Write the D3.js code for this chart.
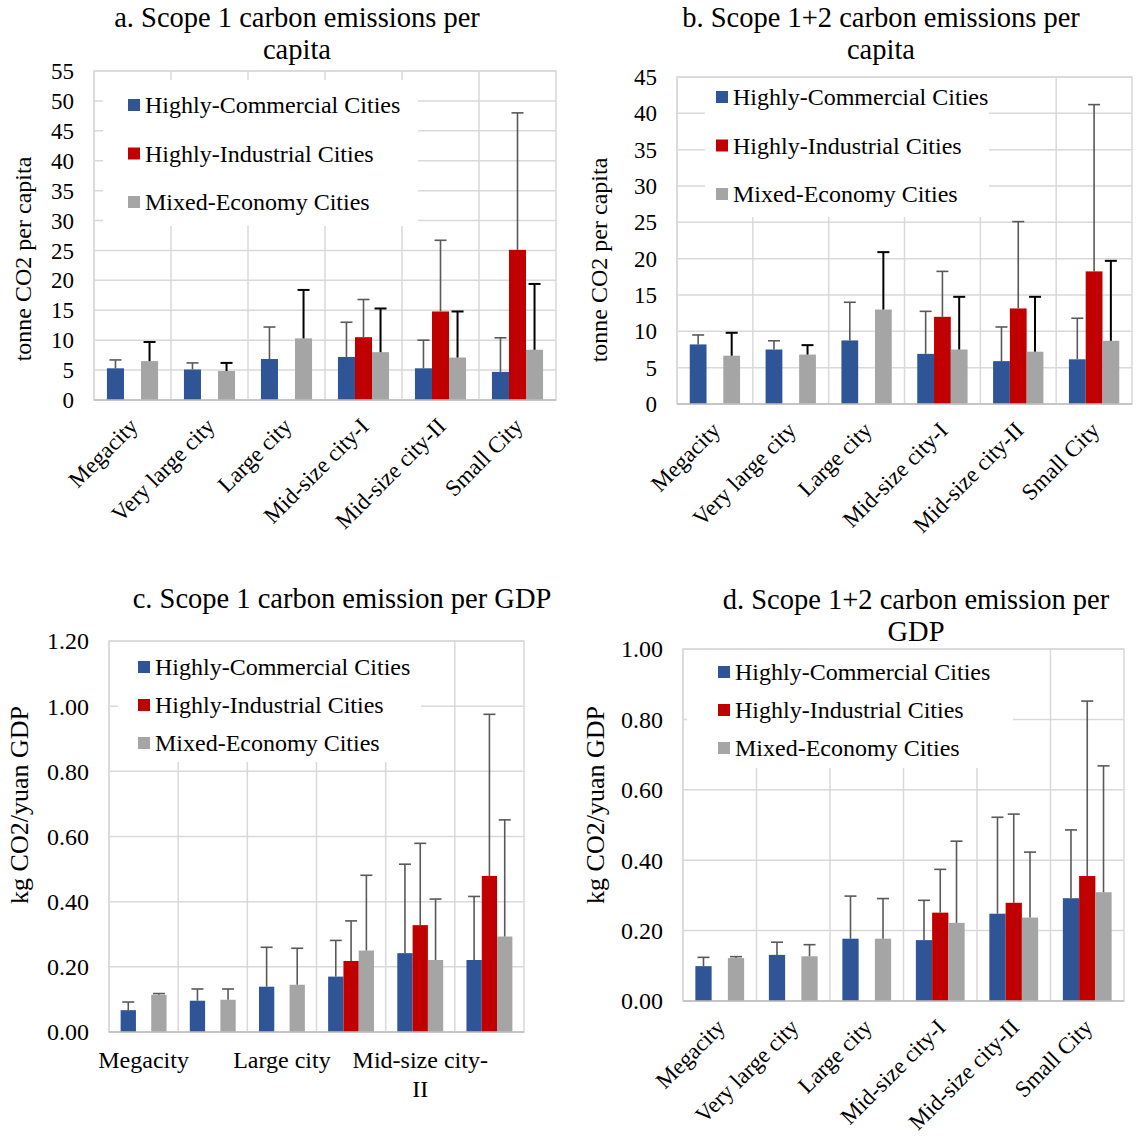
<!DOCTYPE html>
<html lang="en">
<head>
  <meta charset="UTF-8">
  <title>Carbon emissions by city size</title>
<script src="https://d3js.org/d3.v7.min.js"></script>
<style>
  body { margin: 0; background: #fff; }
  svg text { font-family: "Liberation Serif", "Times New Roman", serif; fill: #000; }
</style>
</head>
<body>
<div id="chart"></div>

  <script>

const categories = ['Megacity', 'Very large city', 'Large city', 'Mid-size city-I', 'Mid-size city-II', 'Small City'];
const seriesNames = ['Highly-Commercial Cities', 'Highly-Industrial Cities', 'Mixed-Economy Cities'];
const seriesColors = ['#2F5597', '#C00000', '#A5A5A5'];

// a. scope 1 per capita (tonne)
const aCommercial = [5.3, 5.1, 6.85, 7.2, 5.3, 4.7];
const aCommercialErr = [1.4, 1.1, 5.35, 5.8, 4.7, 5.7];
const aIndustrial = [0, 0, 0, 10.5, 14.8, 25.1];
const aIndustrialErr = [0, 0, 0, 6.3, 11.9, 22.9];
const aMixed = [6.5, 4.85, 10.3, 8.0, 7.1, 8.4];
const aMixedErr = [3.2, 1.35, 8.1, 7.3, 7.7, 11.0];
const aTicks = [0, 5, 10, 15, 20, 25, 30, 35, 40, 45, 50, 55];

// b. scope 1+2 per capita (tonne)
const bCommercial = [8.2, 7.5, 8.75, 6.9, 5.9, 6.15];
const bCommercialErr = [1.3, 1.2, 5.25, 5.85, 4.7, 5.65];
const bIndustrial = [0, 0, 0, 12.0, 13.15, 18.25];
const bIndustrialErr = [0, 0, 0, 6.25, 11.95, 22.95];
const bMixed = [6.65, 6.8, 13.0, 7.5, 7.2, 8.7];
const bMixedErr = [3.15, 1.3, 7.9, 7.25, 7.55, 11.0];
const bTicks = [0, 5, 10, 15, 20, 25, 30, 35, 40, 45];

// c. scope 1 per GDP (kg/yuan)
const cCommercial = [0.067, 0.096, 0.139, 0.170, 0.242, 0.221];
const cCommercialErr = [0.025, 0.036, 0.121, 0.111, 0.273, 0.195];
const cIndustrial = [0, 0, 0, 0.218, 0.328, 0.479];
const cIndustrialErr = [0, 0, 0, 0.123, 0.251, 0.496];
const cMixed = [0.114, 0.099, 0.145, 0.25, 0.221, 0.293];
const cMixedErr = [0.004, 0.033, 0.112, 0.231, 0.187, 0.358];
const cTicks = [0, 0.2, 0.4, 0.6, 0.8, 1.0, 1.2];

// d. scope 1+2 per GDP (kg/yuan)
const dCommercial = [0.099, 0.131, 0.177, 0.173, 0.248, 0.292];
const dCommercialErr = [0.025, 0.036, 0.121, 0.113, 0.274, 0.194];
const dIndustrial = [0, 0, 0, 0.251, 0.279, 0.355];
const dIndustrialErr = [0, 0, 0, 0.123, 0.252, 0.497];
const dMixed = [0.122, 0.127, 0.177, 0.222, 0.237, 0.309];
const dMixedErr = [0.004, 0.033, 0.114, 0.232, 0.186, 0.359];
const dTicks = [0, 0.2, 0.4, 0.6, 0.8, 1.0];

const svg = d3.select('#chart')
  .append('svg')
  .attr('width', 1138)
  .attr('height', 1141);

function drawPanel(p) {
  const g = svg.append('g');
  const series = [
    { name: seriesNames[0], color: seriesColors[0], values: p.values[0], errs: p.errs[0], errColor: '#595959' },
    { name: seriesNames[1], color: seriesColors[1], values: p.values[1], errs: p.errs[1], errColor: '#595959' },
    { name: seriesNames[2], color: seriesColors[2], values: p.values[2], errs: p.errs[2], errColor: p.blackMixed ? '#000' : '#595959' }
  ];

  const x = d3.scaleBand().domain(categories).range([p.left, p.right]);
  const xs = d3.scaleBand().domain(seriesNames).range([0, x.bandwidth()]).paddingOuter(0.76);
  const y = d3.scaleLinear().domain([0, d3.max(p.ticks)]).range([p.bottom, p.top]);

  // gridlines
  g.selectAll('.hgrid').data(p.ticks).enter().append('line')
    .attr('x1', p.left).attr('x2', p.right)
    .attr('y1', d => y(d)).attr('y2', d => y(d))
    .attr('stroke', '#d9d9d9').attr('stroke-width', 1.5);
  g.selectAll('.vgrid').data(categories).enter().append('line')
    .attr('x1', d => x(d)).attr('x2', d => x(d))
    .attr('y1', p.top).attr('y2', p.bottom)
    .attr('stroke', '#d9d9d9').attr('stroke-width', 1.5);
  g.append('rect')
    .attr('x', p.left).attr('y', p.top)
    .attr('width', p.right - p.left).attr('height', p.bottom - p.top)
    .attr('fill', 'none').attr('stroke', '#d9d9d9').attr('stroke-width', 1.5);

  // y tick labels
  g.selectAll('.ytick').data(p.ticks).enter().append('text')
    .attr('x', p.left - p.tickGap)
    .attr('y', d => y(d))
    .attr('dy', '0.35em')
    .attr('text-anchor', 'end')
    .attr('font-size', p.tickSize)
    .text(d => p.fmt(d));

  // bars
  series.forEach(s => {
    g.selectAll(null).data(categories).enter().append('rect')
      .attr('x', (c, i) => x(c) + xs(s.name))
      .attr('y', (c, i) => y(s.values[i]))
      .attr('width', xs.bandwidth())
      .attr('height', (c, i) => y(0) - y(s.values[i]))
      .attr('fill', s.color);
  });

  // error bars (upper only)
  series.forEach(s => {
    const pts = categories.map((c, i) => ({ c, v: s.values[i], e: s.errs[i] })).filter(d => d.v > 0);
    const cx = d => x(d.c) + xs(s.name) + xs.bandwidth() / 2;
    const w = s.errColor === '#000' ? 2 : 1.6;
    g.selectAll(null).data(pts).enter().append('line')
      .attr('x1', cx).attr('x2', cx)
      .attr('y1', d => y(d.v)).attr('y2', d => y(d.v + d.e))
      .attr('stroke', s.errColor).attr('stroke-width', w);
    g.selectAll(null).data(pts).enter().append('line')
      .attr('x1', d => cx(d) - 6).attr('x2', d => cx(d) + 6)
      .attr('y1', d => y(d.v + d.e)).attr('y2', d => y(d.v + d.e))
      .attr('stroke', s.errColor).attr('stroke-width', w);
  });

  // category axis line
  g.append('line')
    .attr('x1', p.left).attr('x2', p.right)
    .attr('y1', p.bottom).attr('y2', p.bottom)
    .attr('stroke', '#bfbfbf').attr('stroke-width', 1.5);

  // x labels
  if (p.flatLabels) {
    p.flatLabels.forEach(l => {
      const cx = x(categories[l.i]) + x.bandwidth() / 2;
      const t = g.append('text')
        .attr('x', cx)
        .attr('y', p.bottom + 36)
        .attr('text-anchor', 'middle')
        .attr('font-size', p.catSize);
      l.lines.forEach((ln, k) => {
        t.append('tspan')
          .attr('x', cx)
          .attr('dy', k === 0 ? 0 : '1.2em')
          .text(ln);
      });
    });
  } else {
    g.selectAll('.xlab').data(categories).enter().append('text')
      .attr('transform', d => `translate(${x(d) + x.bandwidth() / 2 + 1},${p.bottom + 22}) rotate(-45)`)
      .attr('text-anchor', 'end')
      .attr('dy', '0.35em')
      .attr('font-size', p.catSize)
      .text(d => d);
  }

  // y axis title
  g.append('text')
    .attr('transform', `translate(${p.yTitleX},${p.yTitleY}) rotate(-90)`)
    .attr('text-anchor', 'middle')
    .attr('font-size', p.yTitleSize)
    .text(p.yTitle);

  // chart title
  p.title.forEach((t, k) => {
    g.append('text')
      .attr('x', p.titleX)
      .attr('y', p.titleY + k * 32)
      .attr('text-anchor', 'middle')
      .attr('font-size', 28.5)
      .text(t);
  });

  // legend
  const lg = g.append('g');
  lg.append('rect')
    .attr('x', p.legend.x).attr('y', p.legend.y)
    .attr('width', p.legend.w).attr('height', p.legend.h)
    .attr('fill', '#fff');
  series.forEach((s, k) => {
    const ry = p.legend.row0 + k * p.legend.rowStep;
    lg.append('rect')
      .attr('x', p.legend.mx).attr('y', ry - 6)
      .attr('width', 12).attr('height', 12)
      .attr('fill', s.color);
    lg.append('text')
      .attr('x', p.legend.mx + 17).attr('y', ry)
      .attr('dy', '0.35em')
      .attr('font-size', p.legendSize)
      .text(s.name);
  });
}

drawPanel({
  title: ['a. Scope 1 carbon emissions per', 'capita'], titleX: 297, titleY: 27,
  left: 94, right: 556, top: 71, bottom: 400,
  ticks: aTicks, fmt: d3.format('d'), tickSize: 23, tickGap: 20,
  values: [aCommercial, aIndustrial, aMixed], errs: [aCommercialErr, aIndustrialErr, aMixedErr],
  blackMixed: true, catSize: 23,
  yTitle: 'tonne CO2 per capita', yTitleX: 31, yTitleY: 259, yTitleSize: 24,
  legend: { x: 103, y: 80, w: 315, h: 146, mx: 128, row0: 105, rowStep: 48.5 }, legendSize: 24
});

drawPanel({
  title: ['b. Scope 1+2 carbon emissions per', 'capita'], titleX: 881, titleY: 27,
  left: 677, right: 1132, top: 77, bottom: 404,
  ticks: bTicks, fmt: d3.format('d'), tickSize: 23, tickGap: 20,
  values: [bCommercial, bIndustrial, bMixed], errs: [bCommercialErr, bIndustrialErr, bMixedErr],
  blackMixed: true, catSize: 23,
  yTitle: 'tonne CO2 per capita', yTitleX: 607, yTitleY: 260, yTitleSize: 24,
  legend: { x: 705, y: 78, w: 284, h: 139, mx: 716, row0: 97, rowStep: 48.5 }, legendSize: 24
});

drawPanel({
  title: ['c. Scope 1 carbon emission per GDP'], titleX: 342, titleY: 608,
  left: 109, right: 524, top: 641, bottom: 1032,
  ticks: cTicks, fmt: d3.format('.2f'), tickSize: 24, tickGap: 20,
  values: [cCommercial, cIndustrial, cMixed], errs: [cCommercialErr, cIndustrialErr, cMixedErr],
  blackMixed: false, catSize: 24,
  flatLabels: [{ i: 0, lines: ['Megacity'] }, { i: 2, lines: ['Large city'] }, { i: 4, lines: ['Mid-size city-', 'II'] }],
  yTitle: 'kg CO2/yuan GDP', yTitleX: 28, yTitleY: 805, yTitleSize: 26,
  legend: { x: 118, y: 642, w: 303, h: 120, mx: 138, row0: 667, rowStep: 38 }, legendSize: 24
});

drawPanel({
  title: ['d. Scope 1+2 carbon emission per', 'GDP'], titleX: 916, titleY: 609,
  left: 683, right: 1124, top: 649, bottom: 1001,
  ticks: dTicks, fmt: d3.format('.2f'), tickSize: 24, tickGap: 20,
  values: [dCommercial, dIndustrial, dMixed], errs: [dCommercialErr, dIndustrialErr, dMixedErr],
  blackMixed: false, catSize: 23,
  yTitle: 'kg CO2/yuan GDP', yTitleX: 604, yTitleY: 805, yTitleSize: 26,
  legend: { x: 687, y: 650, w: 326, h: 118, mx: 718, row0: 672, rowStep: 38 }, legendSize: 24
});

  </script>
</body>
</html>
